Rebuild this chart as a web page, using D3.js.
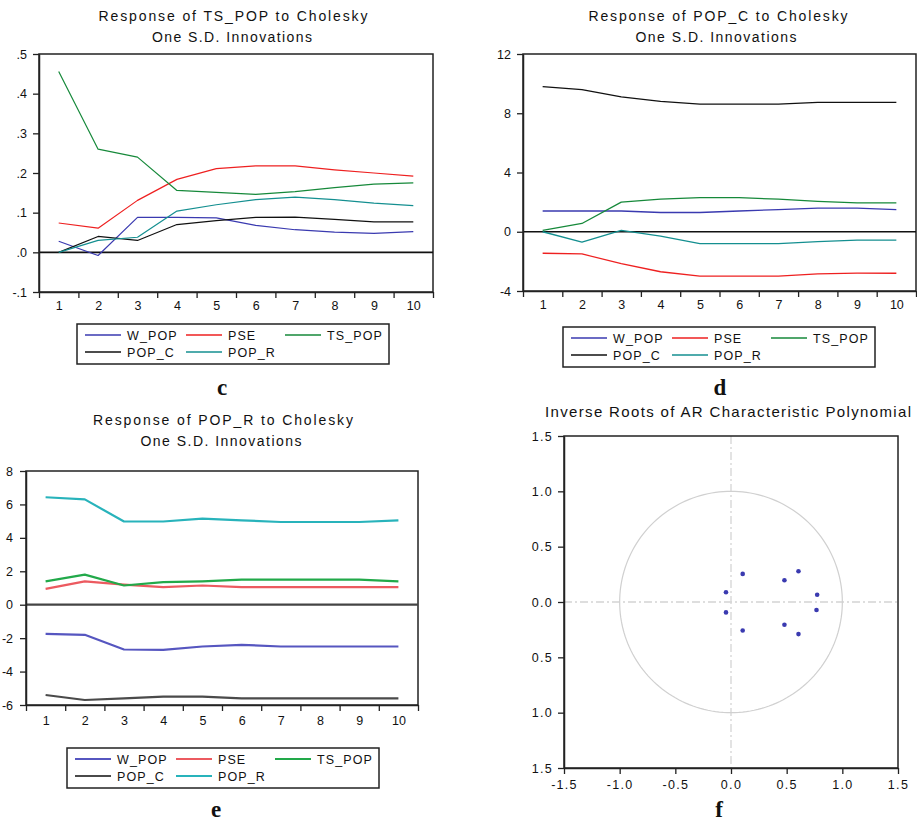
<!DOCTYPE html>
<html>
<head>
<meta charset="utf-8">
<script src="https://cdn.jsdelivr.net/npm/d3@7"></script>
<style>
  html, body { margin: 0; padding: 0; background: #fff; }
  svg { display: block; }
  text { font-family: "Liberation Sans", Arial, sans-serif; fill: #111; }
  text.letter { font-family: "Liberation Serif", "Times New Roman", serif; font-weight: bold; }
</style>
</head>
<body>
<div id="chart"></div>
<script>
// ---------------- DATA ----------------
const periods = [1, 2, 3, 4, 5, 6, 7, 8, 9, 10];
const seriesNames = ["W_POP", "PSE", "TS_POP", "POP_C", "POP_R"];

// Panel c: Response of TS_POP
const tsW   = [0.028, -0.008, 0.088, 0.088, 0.087, 0.068, 0.057, 0.051, 0.048, 0.052];
const tsPSE = [0.074, 0.061, 0.131, 0.184, 0.211, 0.218, 0.218, 0.208, 0.200, 0.192];
const tsTS  = [0.456, 0.260, 0.240, 0.156, 0.151, 0.146, 0.153, 0.163, 0.172, 0.175];
const tsC   = [0.000, 0.040, 0.030, 0.070, 0.080, 0.088, 0.089, 0.083, 0.077, 0.077];
const tsR   = [0.000, 0.030, 0.038, 0.104, 0.120, 0.133, 0.139, 0.133, 0.124, 0.118];
const tsTicks  = [-0.1, 0.0, 0.1, 0.2, 0.3, 0.4, 0.5];
const tsLabels = ["-.1", ".0", ".1", ".2", ".3", ".4", ".5"];

// Panel d: Response of POP_C
const pcW   = [1.40, 1.40, 1.40, 1.30, 1.30, 1.40, 1.50, 1.60, 1.60, 1.50];
const pcPSE = [-1.45, -1.50, -2.15, -2.70, -3.00, -3.00, -3.00, -2.85, -2.80, -2.80];
const pcTS  = [0.10, 0.56, 2.00, 2.20, 2.30, 2.30, 2.20, 2.05, 1.95, 1.95];
const pcC   = [9.80, 9.60, 9.10, 8.80, 8.62, 8.62, 8.62, 8.73, 8.73, 8.73];
const pcR   = [0.00, -0.70, 0.10, -0.30, -0.80, -0.80, -0.80, -0.66, -0.56, -0.56];
const pcTicks  = [-4, 0, 4, 8, 12];
const pcLabels = ["-4", "0", "4", "8", "12"];

// Panel e: Response of POP_R
const prW   = [-1.75, -1.80, -2.68, -2.70, -2.50, -2.40, -2.50, -2.50, -2.50, -2.50];
const prPSE = [0.95, 1.40, 1.20, 1.05, 1.15, 1.05, 1.05, 1.05, 1.05, 1.05];
const prTS  = [1.40, 1.80, 1.15, 1.35, 1.40, 1.50, 1.50, 1.50, 1.50, 1.40];
const prC   = [-5.40, -5.70, -5.60, -5.50, -5.50, -5.60, -5.60, -5.60, -5.60, -5.60];
const prR   = [6.43, 6.30, 4.98, 4.98, 5.15, 5.05, 4.95, 4.95, 4.95, 5.05];
const prTicks  = [-6, -4, -2, 0, 2, 4, 6, 8];
const prLabels = ["-6", "-4", "-2", "0", "2", "4", "6", "8"];

// Panel f: Inverse roots of AR characteristic polynomial
const rootsRe = [0.105, 0.105, -0.045, -0.045, 0.480, 0.480, 0.606, 0.606, 0.774, 0.768];
const rootsIm = [0.254, -0.257, 0.088, -0.094, 0.196, -0.205, 0.278, -0.290, 0.066, -0.072];
const fTicks   = [-1.5, -1.0, -0.5, 0.0, 0.5, 1.0, 1.5];
const fXLabels = ["-1.5", "-1.0", "-0.5", "0.0", "0.5", "1.0", "1.5"];
const fYLabels = ["1.5", "1.0", "0.5", "0.0", "0.5", "1.0", "1.5"];

// ---------------- DRAW ----------------
const svg = d3.select("#chart").append("svg")
  .attr("width", 917).attr("height", 822);

const colorsDark  = ["#3a3ab0", "#ee2020", "#16893a", "#111111", "#148f90"];
const colorsLight = ["#5656c0", "#ec5a60", "#22a94a", "#4a4a4a", "#28b3bb"];

function irfPanel(o) {
  const g = svg.append("g");
  const x = d3.scaleLinear().domain([0.5, 10.5]).range([o.left, o.right]);
  const y = d3.scaleLinear().domain(o.yDomain).range([o.bottom, o.top]);

  o.titles.forEach((t, i) => {
    g.append("text")
      .attr("x", o.titleX[i]).attr("y", o.titleY[i])
      .attr("text-anchor", "middle")
      .style("font-size", "14px")
      .attr("textLength", o.titleLen[i]).attr("lengthAdjust", "spacing")
      .text(t);
  });

  g.append("rect")
    .attr("x", o.left).attr("y", o.top)
    .attr("width", o.right - o.left).attr("height", o.bottom - o.top)
    .attr("fill", "none").attr("stroke", "#222").attr("stroke-width", 1.5);

  g.append("line")
    .attr("x1", o.left).attr("x2", o.right)
    .attr("y1", y(0)).attr("y2", y(0))
    .attr("stroke", o.zeroColor).attr("stroke-width", o.zeroW);

  const ya = g.append("g").attr("transform", `translate(${o.left},0)`)
    .call(d3.axisLeft(y).tickValues(o.yTicks)
      .tickFormat((d, i) => o.yLabels[i]).tickSize(6).tickSizeOuter(0).tickPadding(o.yPad));
  ya.select(".domain").attr("stroke", "#222").attr("stroke-width", 1.5);
  ya.selectAll(".tick line").attr("stroke", "#222").attr("stroke-width", 1.3);
  ya.selectAll("text").style("font-size", "12.5px").style("fill", "#111");

  const bounds = d3.range(0, 11).map(k => k + 0.5);
  const xa = g.append("g").attr("transform", `translate(0,${o.bottom})`)
    .call(d3.axisBottom(x).tickValues(bounds).tickFormat("").tickSize(6).tickSizeOuter(0));
  xa.select(".domain").attr("stroke", "#222").attr("stroke-width", 1.5);
  xa.selectAll(".tick line").attr("stroke", "#222").attr("stroke-width", 1.3);
  const xl = g.append("g").attr("transform", `translate(0,${o.bottom})`)
    .call(d3.axisBottom(x).tickValues(periods).tickFormat(d3.format("d")).tickSize(0).tickPadding(o.xPad));
  xl.select(".domain").remove();
  xl.selectAll("text").style("font-size", "12.5px").style("fill", "#111");

  const line = d3.line().x((d, i) => x(periods[i])).y(d => y(d));
  o.series.forEach((vals, k) => {
    g.append("path").datum(vals)
      .attr("d", line)
      .attr("fill", "none")
      .attr("stroke", o.colors[k])
      .attr("stroke-width", o.lineW)
      .attr("stroke-linejoin", "round");
  });

  const L = o.legend;
  g.append("rect").attr("x", L.x).attr("y", L.y).attr("width", 312).attr("height", 40)
    .attr("fill", "#fff").attr("stroke", "#222").attr("stroke-width", 1.5);
  const colOff = [8, 109, 208];
  const rowOff = [11, 28];
  seriesNames.forEach((name, k) => {
    const cx = L.x + colOff[k % 3];
    const cy = L.y + rowOff[Math.floor(k / 3)];
    g.append("line").attr("x1", cx).attr("x2", cx + 36).attr("y1", cy).attr("y2", cy)
      .attr("stroke", o.colors[k]).attr("stroke-width", o.legendLineW);
    g.append("text").attr("x", cx + 42).attr("y", cy).attr("dy", "0.36em")
      .style("font-size", "12.5px").style("letter-spacing", "1.1px").text(name);
  });

  g.append("text").attr("class", "letter")
    .attr("x", o.letterX).attr("y", o.letterY)
    .attr("text-anchor", "middle")
    .style("font-size", "23px")
    .text(o.letter);
}

irfPanel({
  left: 39, right: 433, top: 54, bottom: 292,
  yDomain: [-0.1, 0.5], yTicks: tsTicks, yLabels: tsLabels, yPad: 6, xPad: 9,
  titles: ["Response of TS_POP to Cholesky", "One S.D. Innovations"],
  titleX: [233, 232], titleY: [21, 42], titleLen: [269, 160],
  series: [tsW, tsPSE, tsTS, tsC, tsR], colors: colorsDark, lineW: 1.2, legendLineW: 1.3,
  zeroColor: "#111", zeroW: 1.6,
  legend: { x: 77, y: 324 }, letter: "c", letterX: 222, letterY: 395
});

irfPanel({
  left: 523, right: 916, top: 54, bottom: 291,
  yDomain: [-4, 12], yTicks: pcTicks, yLabels: pcLabels, yPad: 6, xPad: 9,
  titles: ["Response of POP_C to Cholesky", "One S.D. Innovations"],
  titleX: [718, 716], titleY: [21, 42], titleLen: [259, 161],
  series: [pcW, pcPSE, pcTS, pcC, pcR], colors: colorsDark, lineW: 1.3, legendLineW: 1.3,
  zeroColor: "#111", zeroW: 1.6,
  legend: { x: 563, y: 327 }, letter: "d", letterX: 720, letterY: 395
});

irfPanel({
  left: 26, right: 418, top: 471, bottom: 705,
  yDomain: [-6, 8], yTicks: prTicks, yLabels: prLabels, yPad: 7, xPad: 11,
  titles: ["Response of POP_R to Cholesky", "One S.D. Innovations"],
  titleX: [223, 221], titleY: [425, 446], titleLen: [260, 161],
  series: [prW, prPSE, prTS, prC, prR], colors: colorsLight, lineW: 2.2, legendLineW: 2,
  zeroColor: "#444", zeroW: 2.2,
  legend: { x: 67, y: 748 }, letter: "e", letterX: 216, letterY: 817
});

// ---- Panel f ----
(function () {
  const left = 564, right = 898, top = 436, bottom = 768;
  const g = svg.append("g");
  const x = d3.scaleLinear().domain([-1.5, 1.5]).range([left, right]);
  const y = d3.scaleLinear().domain([-1.5, 1.5]).range([bottom, top]);

  g.append("text").attr("x", 728).attr("y", 417).attr("text-anchor", "middle")
    .style("font-size", "15px").attr("textLength", 366).attr("lengthAdjust", "spacing")
    .text("Inverse Roots of AR Characteristic Polynomial");

  g.append("line").attr("x1", left).attr("x2", right).attr("y1", y(0)).attr("y2", y(0))
    .attr("stroke", "#d4d4d4").attr("stroke-width", 1.3).attr("stroke-dasharray", "8,3,2,3");
  g.append("line").attr("x1", x(0)).attr("x2", x(0)).attr("y1", top).attr("y2", bottom)
    .attr("stroke", "#d4d4d4").attr("stroke-width", 1.3).attr("stroke-dasharray", "8,3,2,3");

  const circ = d3.range(0, 361, 2).map(a => [Math.cos(a * Math.PI / 180), Math.sin(a * Math.PI / 180)]);
  g.append("path").datum(circ)
    .attr("d", d3.line().x(d => x(d[0])).y(d => y(d[1])))
    .attr("fill", "none").attr("stroke", "#d0d0d0").attr("stroke-width", 1.2);

  g.selectAll("circle.root").data(rootsRe).enter().append("circle")
    .attr("class", "root")
    .attr("cx", d => x(d)).attr("cy", (d, i) => y(rootsIm[i]))
    .attr("r", 2.3).attr("fill", "#3a3ab0");

  g.append("rect").attr("x", left).attr("y", top).attr("width", right - left).attr("height", bottom - top)
    .attr("fill", "none").attr("stroke", "#222").attr("stroke-width", 1.5);

  const ya = g.append("g").attr("transform", `translate(${left},0)`)
    .call(d3.axisLeft(y).tickValues(fTicks).tickFormat((d, i) => fYLabels[i]).tickSize(6).tickSizeOuter(0).tickPadding(5));
  const xa = g.append("g").attr("transform", `translate(0,${bottom})`)
    .call(d3.axisBottom(x).tickValues(fTicks).tickFormat((d, i) => fXLabels[i]).tickSize(6).tickSizeOuter(0).tickPadding(6));
  [ya, xa].forEach(a => {
    a.select(".domain").attr("stroke", "#222").attr("stroke-width", 1.5);
    a.selectAll(".tick line").attr("stroke", "#222").attr("stroke-width", 1.3);
    a.selectAll("text").style("font-size", "12.5px").style("letter-spacing", "1.3px").style("fill", "#111");
  });

  g.append("text").attr("class", "letter").attr("x", 719).attr("y", 817).attr("text-anchor", "middle")
    .style("font-size", "23px").text("f");
})();
</script>
</body>
</html>
